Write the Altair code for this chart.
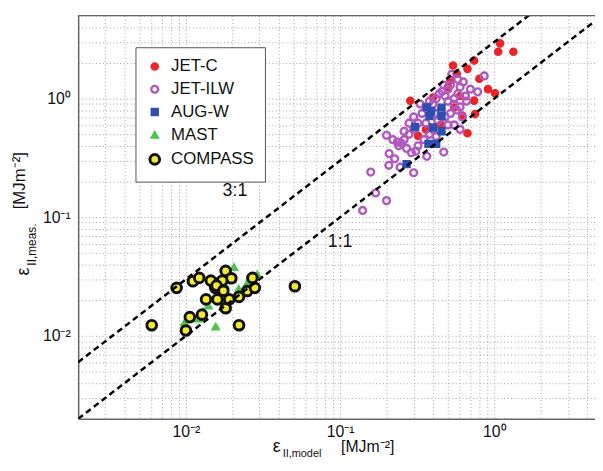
import altair as alt
import pandas as pd

SERIES = ["JET-C", "JET-ILW", "AUG-W", "MAST", "COMPASS"]

jetc_x = [1.09, 1.06, 1.33, 0.74, 0.54, 0.67, 0.57, 0.52, 0.80, 0.91, 1.01, 0.285, 0.74, 0.75,
          0.67, 0.32, 0.40, 0.55, 0.62, 0.45, 0.36, 0.50, 0.60]
jetc_y = [2.92, 2.48, 2.48, 2.09, 1.90, 1.78, 1.62, 1.43, 1.47, 1.20, 1.11, 0.957, 0.96, 0.74,
          0.51, 0.485, 1.02, 0.84, 0.72, 0.60, 0.55, 1.25, 1.05]

ilw_x = [0.14, 0.17, 0.20, 0.158, 0.20, 0.207, 0.208, 0.226, 0.245, 0.30, 0.235, 0.22, 0.25, 0.24,
         0.26, 0.27, 0.29, 0.31, 0.365, 0.47, 0.28, 0.30, 0.26, 0.32, 0.30, 0.34, 0.28, 0.36, 0.33,
         0.38, 0.40, 0.42, 0.44, 0.46, 0.48, 0.50, 0.52, 0.55, 0.58, 0.60, 0.63, 0.78, 0.86, 0.65,
         0.55, 0.50, 0.45, 0.48, 0.52, 0.57, 0.60, 0.62, 0.55, 0.50, 0.43, 0.40, 0.38, 0.35, 0.42,
         0.60, 0.66, 0.70, 0.58, 0.53, 0.47, 0.41, 0.36, 0.32]
ilw_y = [0.114, 0.16, 0.138, 0.24, 0.49, 0.274, 0.344, 0.311, 0.264, 0.237, 0.43, 0.45, 0.42, 0.40,
         0.45, 0.38, 0.35, 0.36, 0.326, 0.354, 0.50, 0.55, 0.53, 0.62, 0.70, 0.75, 0.62, 0.85, 0.90,
         0.95, 0.90, 1.00, 1.10, 1.15, 1.05, 1.20, 1.30, 1.00, 1.10, 1.25, 1.38, 1.14, 1.55, 1.05,
         0.90, 0.95, 0.80, 0.70, 0.75, 0.80, 0.85, 0.70, 0.60, 0.60, 0.65, 0.55, 0.50, 0.45, 0.48,
         0.55, 0.95, 1.20, 1.45, 1.60, 1.30, 0.75, 0.62, 0.40]

aug_x = [0.365, 0.455, 0.455, 0.38, 0.307, 0.40, 0.455, 0.374, 0.42, 0.27, 0.39]
aug_y = [0.843, 0.84, 0.71, 0.71, 0.576, 0.57, 0.53, 0.415, 0.415, 0.28, 0.78]

mast_x = [0.0205, 0.029, 0.0156, 0.0098, 0.013, 0.014, 0.016, 0.018, 0.020, 0.022, 0.025, 0.017,
          0.012, 0.019]
mast_y = [0.038, 0.033, 0.012, 0.013, 0.016, 0.018, 0.022, 0.027, 0.030, 0.025, 0.028, 0.020,
          0.014, 0.033]

compass_x = [0.006, 0.010, 0.0106, 0.0127, 0.0221, 0.0509, 0.0087, 0.0111, 0.0122, 0.0145, 0.0164,
             0.0181, 0.0197, 0.0172, 0.0155, 0.0135, 0.016, 0.0181, 0.0191, 0.0221, 0.025, 0.027,
             0.028, 0.0158, 0.0175]
compass_y = [0.0123, 0.0111, 0.0144, 0.0151, 0.0123, 0.0262, 0.0254, 0.0289, 0.0308, 0.0292, 0.0279,
             0.0353, 0.0306, 0.0292, 0.0254, 0.0203, 0.0203, 0.0171, 0.0203, 0.0213, 0.0239, 0.0308,
             0.0254, 0.0265, 0.0240]

line_x = [0.002, 4.5]
line_11_y = [0.002, 4.5]
line_31_y = [0.006, 13.5]

label_text = ["3:1", "1:1"]
label_x = [0.0208, 0.1]
label_y = [0.167, 0.062]

grid_x = [0.002, 0.003, 0.004, 0.005, 0.006, 0.007, 0.008, 0.009,
          0.01, 0.02, 0.03, 0.04, 0.05, 0.06, 0.07, 0.08, 0.09,
          0.1, 0.2, 0.3, 0.4, 0.5, 0.6, 0.7, 0.8, 0.9, 1, 2, 3, 4]
grid_y = grid_x + [5]

rows = []
for name, xs_, ys_ in [("JET-C", jetc_x, jetc_y), ("JET-ILW", ilw_x, ilw_y),
                       ("AUG-W", aug_x, aug_y), ("MAST", mast_x, mast_y),
                       ("COMPASS", compass_x, compass_y)]:
    for a, b in zip(xs_, ys_):
        rows.append({"series": name, "x": a, "y": b})
pts = pd.DataFrame(rows)
pts["idx"] = range(len(pts))

lines = pd.DataFrame(
    [{"ratio": "1:1", "x": a, "y": b} for a, b in zip(line_x, line_11_y)]
    + [{"ratio": "3:1", "x": a, "y": b} for a, b in zip(line_x, line_31_y)]
)
labels = pd.DataFrame({"t": label_text, "x": label_x, "y": label_y})

W, H = 523, 408
FONT = "Liberation Sans"

lab_expr = ("datum.value == 0.01 ? '10⁻²' : datum.value == 0.1 ? '10⁻¹' : "
            "datum.value == 1 ? '10⁰' : ''")

xs = alt.Scale(type="log", domain=[0.002, 4.5], nice=False)
ys = alt.Scale(type="log", domain=[0.002, 5], nice=False)

axis_common = dict(labelExpr=lab_expr, title=None, grid=True,
                   gridDash=[1, 2.5], gridColor="#a0a0a0", gridWidth=1, ticks=False,
                   domainColor="#666666", domainWidth=1.5, labelFontSize=16,
                   labelFont=FONT, labelColor="#111", labelOverlap=False)
x_axis = alt.Axis(values=grid_x, labelPadding=5, **axis_common)
y_axis = alt.Axis(values=grid_y, labelPadding=8, **axis_common)

leg = alt.Legend(title=None, orient="none", legendX=58, legendY=32, fillColor="white",
                 strokeColor="#555555", padding=11, labelFontSize=17, labelFont=FONT,
                 labelColor="#111", rowPadding=5, labelOffset=8)

points = alt.Chart(pts).mark_point(filled=True, opacity=1).encode(
    x=alt.X("x:Q", scale=xs, axis=x_axis),
    y=alt.Y("y:Q", scale=ys, axis=y_axis),
    fill=alt.Fill("series:N", sort=SERIES, legend=leg,
                  scale=alt.Scale(domain=SERIES,
                                  range=["#e8262a", "transparent", "#2c4fb0", "#4ec24e", "#f2ea2e"])),
    stroke=alt.Stroke("series:N", sort=SERIES, legend=leg,
                      scale=alt.Scale(domain=SERIES,
                                      range=["#e8262a", "#b058c0", "#2c4fb0", "#4ec24e", "#111111"])),
    shape=alt.Shape("series:N", sort=SERIES, legend=leg,
                    scale=alt.Scale(domain=SERIES,
                                    range=["circle", "circle", "square", "triangle-up", "circle"])),
    size=alt.Size("series:N", sort=SERIES, legend=leg,
                  scale=alt.Scale(type="ordinal", domain=SERIES, range=[52, 48, 48, 58, 95])),
    strokeWidth=alt.StrokeWidth("series:N", sort=SERIES, legend=leg,
                                scale=alt.Scale(type="ordinal", domain=SERIES,
                                                range=[1.5, 2.4, 1.5, 1.5, 3])),
    order=alt.Order("idx:Q"),
)

ref_lines = alt.Chart(lines).mark_line(clip=True, color="black", strokeDash=[6, 4],
                                       strokeWidth=2.5).encode(
    x=alt.X("x:Q", scale=xs), y=alt.Y("y:Q", scale=ys), detail="ratio:N")

ref_labels = alt.Chart(labels).mark_text(fontSize=18, font=FONT, color="#111").encode(
    x=alt.X("x:Q", scale=xs), y=alt.Y("y:Q", scale=ys), text="t:N")

top_frame = alt.Chart(pd.DataFrame({"a": [0]})).mark_rule(color="#666666", strokeWidth=1.5).encode(
    x=alt.value(0), x2=alt.value(W), y=alt.value(0))


def txt(s, x, y, size, angle=0, align="center"):
    return alt.Chart(pd.DataFrame({"s": [s]})).mark_text(
        fontSize=size, font=FONT, color="#111", align=align, baseline="middle", angle=angle
    ).encode(text="s:N", x=alt.value(x), y=alt.value(y))


titles = [
    txt("ε", 201, 437, 18),
    txt("II,model", 207, 444, 11, align="left"),
    txt("[MJm⁻²]", 266, 437, 16, align="left"),
    txt("ε", -55, 259, 18, angle=270),
    txt("II,meas.", -47, 253, 12, angle=270, align="left"),
    txt("[MJm⁻²]", -59, 196, 17, angle=270, align="left"),
]

chart = alt.layer(points, ref_lines, ref_labels, top_frame, *titles).properties(
    width=W, height=H,
    autosize=alt.AutoSizeParams(type="none"),
    padding={"left": 71, "top": 5, "right": 0, "bottom": 42},
).configure_view(stroke=None)

chart.save("out.html", embed_options={"renderer": "svg", "actions": False})
